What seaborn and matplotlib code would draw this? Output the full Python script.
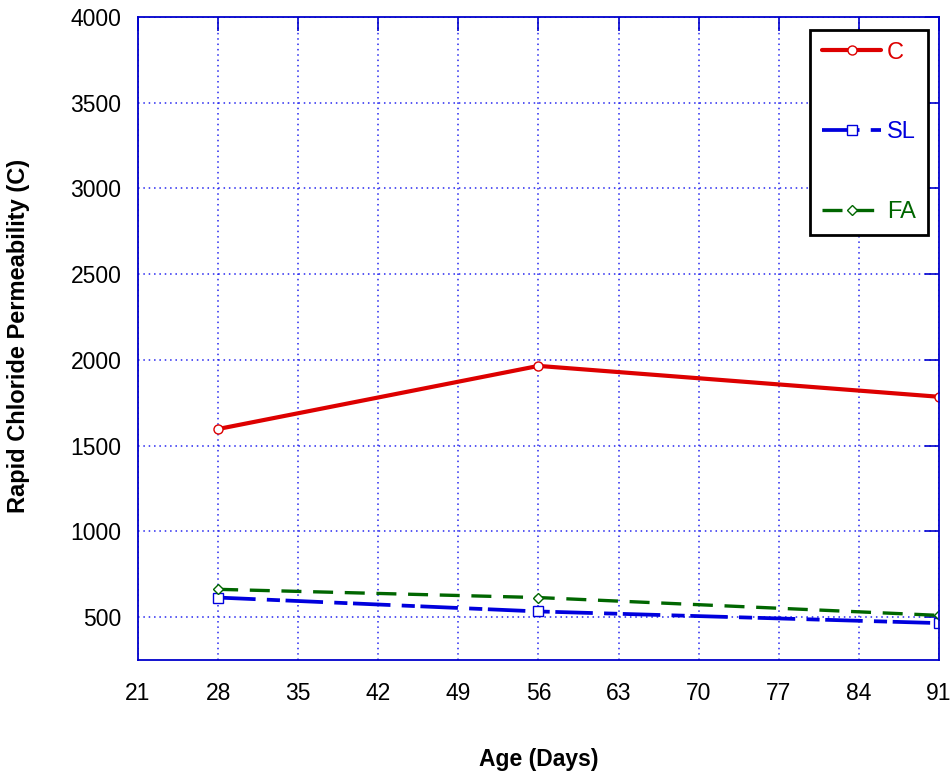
import numpy as np
import pandas as pd
import matplotlib
matplotlib.use("Agg")
import matplotlib.pyplot as plt
import seaborn as sns

# data
age = [28, 56, 91]
c_vals = [1597, 1965, 1785]
sl_vals = [614, 533, 465]
fa_vals = [662, 614, 510]
xticks = [21, 28, 35, 42, 49, 56, 63, 70, 77, 84, 91]
yticks = [500, 1000, 1500, 2000, 2500, 3000, 3500, 4000]

sns.set_style("white")
plt.rcParams['font.family'] = ['Liberation Sans', 'DejaVu Sans']
plt.rcParams['text.color'] = 'black'
plt.rcParams['axes.labelcolor'] = 'black'

df = pd.DataFrame({"age": age * 3,
                   "val": c_vals + sl_vals + fa_vals,
                   "mix": ["C"] * 3 + ["SL"] * 3 + ["FA"] * 3})

fig = plt.figure(figsize=(9.52, 7.71), dpi=100)
ax = fig.add_axes([0.145, 0.144, 0.8413, 0.834])

blue = "#0000cc"
styles = {
    "C": dict(color="#dd0000", marker="o", lw=3.0, dashes=None),
    "SL": dict(color="#0000dd", marker="s", lw=2.7, dashes=(10, 3, 3.5, 1.5)),
    "FA": dict(color="#006600", marker="D", lw=2.4, dashes=(6, 3.5)),
}
for name, st in styles.items():
    sub = df[df["mix"] == name]
    sns.lineplot(data=sub, x="age", y="val", ax=ax, color=st["color"], lw=st["lw"],
                 marker=st["marker"], markersize=6.5 if st["marker"] != "D" else 5.5,
                 markerfacecolor="white", markeredgecolor=st["color"], markeredgewidth=1.0,
                 label=name)
    if st["dashes"] is not None:
        ax.lines[-1].set_dashes(st["dashes"])

ax.set_xlim(21, 91)
ax.set_ylim(250, 4000)
ax.set_xticks(xticks)
ax.set_yticks(yticks)
ax.tick_params(direction="in", length=10, color=blue, width=1.2, labelsize=16.5,
               labelcolor="black", top=True, right=True)
ax.tick_params(axis="x", pad=16)
ax.tick_params(axis="y", pad=12)
for s in ax.spines.values():
    s.set_color(blue)
    s.set_linewidth(1.3)
ax.grid(True, color="#0000ee", linestyle=(0, (1, 2.5)), linewidth=1.1, alpha=0.85)

ax.set_xlabel("Age (Days)", fontsize=16.5, fontweight="bold")
ax.set_ylabel("Rapid Chloride Permeability (C)", fontsize=17, fontweight="bold")
ax.xaxis.set_label_coords(0.5, -0.137)
ax.yaxis.set_label_coords(-0.135, 0.504)

leg = ax.legend(loc="upper right", bbox_to_anchor=(0.986, 0.980), fontsize=17,
                labelspacing=2.45, handlelength=2.5, handletextpad=0.25,
                borderpad=0.5, borderaxespad=0, fancybox=False,
                framealpha=1, edgecolor="black")
leg.get_frame().set_linewidth(2.0)
for txt, st in zip(leg.get_texts(), styles.values()):
    txt.set_color(st["color"])

fig.savefig("out.png", dpi=100)
